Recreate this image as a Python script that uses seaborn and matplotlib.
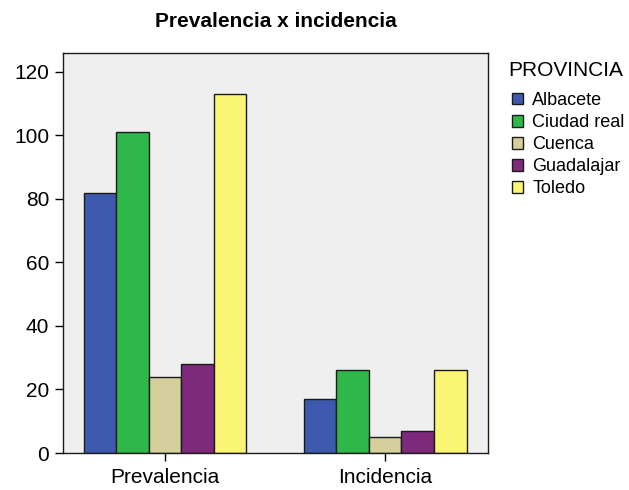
import matplotlib
matplotlib.use("Agg")
import matplotlib.pyplot as plt
import seaborn as sns
import pandas as pd

# Counts per province, for prevalence and incidence
medidas = ["Prevalencia", "Incidencia"]
provincias = ["Albacete", "Ciudad real", "Cuenca", "Guadalajar", "Toledo"]
prevalencia = [82, 101, 24, 28, 113]
incidencia = [17, 26, 5, 7, 26]
colores = ["#3d5aae", "#2fb84a", "#d4cf9b", "#7e2a7c", "#faf573"]

df = pd.DataFrame({
    "medida": [m for m in medidas for _ in provincias],
    "PROVINCIA": provincias * 2,
    "valor": prevalencia + incidencia,
})

sns.set_style("white", {"xtick.bottom": True, "ytick.left": True,
                        "text.color": "black", "axes.labelcolor": "black"})
plt.rcParams["font.family"] = ["Liberation Sans", "DejaVu Sans"]

fig = plt.figure(figsize=(6.29, 4.90), dpi=100)
ax = fig.add_axes([0.100, 0.0755, 0.676, 0.8165])
ax.set_facecolor("#efefef")

sns.barplot(data=df, x="medida", y="valor", hue="PROVINCIA", order=medidas,
            hue_order=provincias, palette=colores, width=0.74, dodge=True,
            edgecolor="#1a1a1a", linewidth=1.0, saturation=1, ax=ax)

ax.set_xlim(-0.464, 1.468)
ax.set_ylim(0, 126)
ax.set_yticks([0, 20, 40, 60, 80, 100, 120])
ax.set_xlabel("")
ax.set_ylabel("")
ax.tick_params(axis="both", labelsize=15, length=6, width=1, colors="black",
               direction="out", bottom=True, left=True)
ax.tick_params(axis="x", pad=5)
ax.tick_params(axis="y", pad=4)
for s in ax.spines.values():
    s.set_color("#1a1a1a")
    s.set_linewidth(1.0)

ax.set_title("Prevalencia x incidencia", fontsize=15, fontweight="bold", pad=19,
             color="black")

# Legend: heading drawn separately so the gap above the entries can be set
fig.text(508 / 629, 1 - 70 / 490, "PROVINCIA", fontsize=15, ha="left", va="center",
         color="black")
handles, labels = ax.get_legend_handles_labels()
ax.legend(handles, labels, loc="upper left", bbox_to_anchor=(512 / 629, 1 - 92 / 490),
          bbox_transform=fig.transFigure, frameon=False, fontsize=13,
          handlelength=0.62, handleheight=0.62, handletextpad=0.5,
          labelspacing=0.28, borderpad=0, borderaxespad=0, labelcolor="black")

fig.savefig("out.png", dpi=100)
